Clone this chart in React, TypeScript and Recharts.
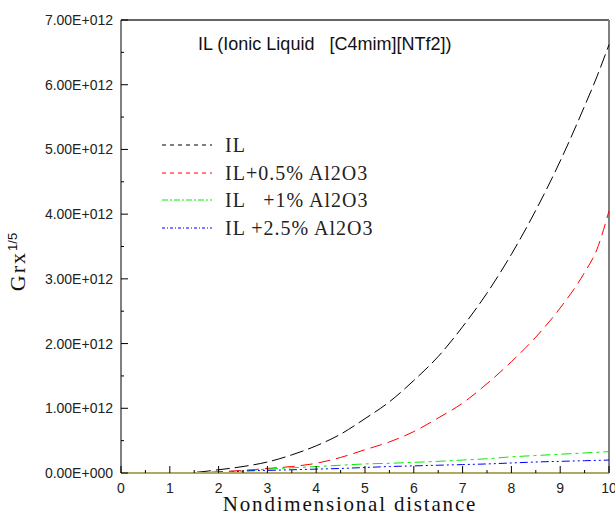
import { LineChart, Line, XAxis, YAxis, ReferenceLine } from "recharts";

// x positions (nondimensional distance)
const xs = [0, 0.5, 1, 1.5, 2, 2.5, 3, 3.5, 4, 4.5, 5, 5.5, 6, 6.5, 7, 7.5, 8, 8.5, 9, 9.5, 9.75, 10];

// Grx^1/5 values, in units of 1e12
const il = [0, 0, 0, 0.01, 0.05, 0.1, 0.17, 0.28, 0.42, 0.6, 0.84, 1.1, 1.43, 1.8, 2.26, 2.78, 3.38, 4.06, 4.82, 5.67, 6.12, 6.62];
const il05 = [0, 0, 0, 0, 0.02, 0.04, 0.07, 0.1, 0.15, 0.24, 0.36, 0.48, 0.64, 0.85, 1.08, 1.38, 1.72, 2.1, 2.55, 3.1, 3.45, 4.05];
const il1 = [0, 0, 0, 0, 0, 0.03, 0.06, 0.08, 0.1, 0.12, 0.14, 0.15, 0.165, 0.18, 0.2, 0.22, 0.25, 0.27, 0.29, 0.31, 0.32, 0.33];
const il25 = [0, 0, 0, 0, 0, 0.03, 0.04, 0.05, 0.06, 0.07, 0.085, 0.1, 0.11, 0.12, 0.13, 0.14, 0.155, 0.17, 0.18, 0.19, 0.195, 0.2];

const xTicks = [0, 0.5, 1, 1.5, 2, 2.5, 3, 3.5, 4, 4.5, 5, 5.5, 6, 6.5, 7, 7.5, 8, 8.5, 9, 9.5, 10];
const yTicks = [0, 0.5, 1, 1.5, 2, 2.5, 3, 3.5, 4, 4.5, 5, 5.5, 6, 6.5, 7].map((v) => v * 1e12);

const series = [
  { key: "il", label: "IL", color: "#000000", dash: "14 5", legendDash: "4 4" },
  { key: "il05", label: "IL+0.5% Al2O3", color: "#ff0000", dash: "12 6", legendDash: "4 4" },
  { key: "il1", label: "IL   +1% Al2O3", color: "#00ee00", dash: "10 4 3 4", legendDash: "6 2 2 2" },
  { key: "il25", label: "IL +2.5% Al2O3", color: "#0000ff", dash: "8 3 2 3 2 3", legendDash: "3 2 1 2" },
];

const data = xs.map((x, i) => ({
  x,
  il: il[i] * 1e12,
  il05: il05[i] * 1e12,
  il1: il1[i] * 1e12,
  il25: il25[i] * 1e12,
}));

const PLOT_BOTTOM = 473;
const PLOT_LEFT = 121;
const SANS = "Liberation Sans, Arial";
const SERIF = "Liberation Serif, Times New Roman, serif";

function XTick({ x, payload }: any) {
  const v = payload.value;
  const major = Number.isInteger(v);
  return (
    <g>
      <line x1={x} x2={x} y1={PLOT_BOTTOM} y2={PLOT_BOTTOM - (major ? 7 : 3)} stroke="#000" />
      {major && (
        <text x={x} y={493} textAnchor="middle" fontSize={14} fill="#222" fontFamily={SANS}>
          {v}
        </text>
      )}
    </g>
  );
}

function YTick({ y, payload }: any) {
  const v = payload.value / 1e12;
  const major = Math.abs(v - Math.round(v)) < 1e-6;
  const label = v === 0 ? "0.00E+000" : `${v.toFixed(2)}E+012`;
  return (
    <g>
      <line x1={PLOT_LEFT} x2={PLOT_LEFT + (major ? 7 : 3)} y1={y} y2={y} stroke="#000" />
      {major && (
        <text x={113} y={y + 5} textAnchor="end" fontSize={14} fill="#222" fontFamily={SANS}>
          {label}
        </text>
      )}
    </g>
  );
}

export default function App() {
  return (
    <div style={{ position: "absolute", left: 0, top: 0, width: 615, height: 515, background: "#fff", overflow: "hidden" }}>
      <LineChart width={615} height={515} data={data} margin={{ top: 20, right: 6, bottom: 0, left: 0 }}>
        <XAxis
          dataKey="x"
          type="number"
          domain={[0, 10]}
          ticks={xTicks}
          interval={0}
          tick={<XTick />}
          tickLine={false}
          axisLine={{ stroke: "#b0a860", strokeWidth: 2 }}
          height={42}
        />
        <YAxis
          type="number"
          domain={[0, 7e12]}
          ticks={yTicks}
          interval={0}
          tick={<YTick />}
          tickLine={false}
          axisLine={{ stroke: "#000" }}
          width={121}
        />
        <ReferenceLine y={7e12} stroke="#333" strokeWidth={1.5} />
        <ReferenceLine x={10} stroke="#808080" strokeWidth={2} />
        {series.map((s) => (
          <Line
            key={s.key}
            dataKey={s.key}
            type="monotone"
            stroke={s.color}
            strokeDasharray={s.dash}
            strokeWidth={1}
            dot={false}
            isAnimationActive={false}
          />
        ))}
      </LineChart>

      <div
        style={{
          position: "absolute",
          left: 198,
          top: 34,
          fontFamily: SANS,
          fontSize: 18,
          color: "#111",
          whiteSpace: "pre",
        }}
      >
        IL (Ionic Liquid   [C4mim][NTf2])
      </div>

      {series.map((s, i) => (
        <div
          key={s.key}
          style={{
            position: "absolute",
            left: 162,
            top: [134, 162, 189, 217][i],
            height: 22,
            display: "flex",
            alignItems: "center",
            whiteSpace: "pre",
            fontFamily: SERIF,
            fontSize: 20,
            letterSpacing: 1,
            color: "#222",
          }}
        >
          <svg width={50} height={4} style={{ marginRight: 13 }}>
            <line x1={0} x2={50} y1={2} y2={2} stroke={s.color} strokeDasharray={s.legendDash} />
          </svg>
          {s.label}
        </div>
      ))}

      <div
        style={{
          position: "absolute",
          left: 0,
          width: 615,
          top: 495,
          paddingLeft: 85,
          boxSizing: "border-box",
          textAlign: "center",
          fontFamily: SERIF,
          fontSize: 21,
          lineHeight: "19px",
          letterSpacing: 1.8,
          color: "#111",
        }}
      >
        Nondimensional distance
      </div>

      <div
        style={{
          position: "absolute",
          left: 18,
          top: 262,
          transform: "translate(-50%, -50%) rotate(-90deg)",
          fontFamily: SERIF,
          fontSize: 22,
          letterSpacing: 2,
          color: "#111",
          whiteSpace: "pre",
        }}
      >
        Grx<sup style={{ fontSize: 13, letterSpacing: 0, fontFamily: SANS }}>1/5</sup>
      </div>
    </div>
  );
}
